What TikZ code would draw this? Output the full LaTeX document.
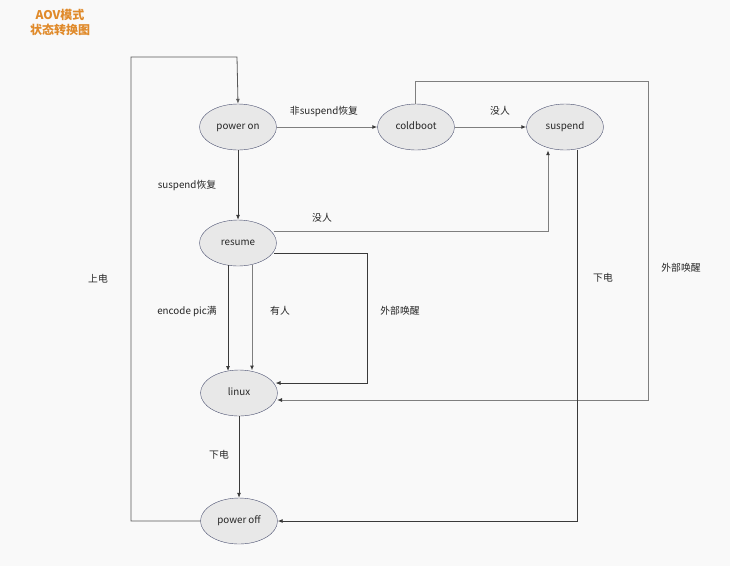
\documentclass[tikz,border=0pt]{standalone}
\usepackage{fontspec}
\setmainfont{Noto Sans CJK SC}
\usetikzlibrary{arrows.meta,shapes.geometric}
\definecolor{bgc}{HTML}{F9F9F9}
\definecolor{fillc}{HTML}{E8E8E8}
\definecolor{edgec}{HTML}{4A5070}
\definecolor{dark}{HTML}{3A3A3A}
\definecolor{grayl}{HTML}{7F7F7F}
\definecolor{titlec}{HTML}{E08A2A}
\tikzset{
  state/.style={ellipse, draw=edgec, fill=fillc, minimum width=77pt, minimum height=46pt, inner sep=0pt, font=\fontsize{9.8}{11}\selectfont, text=black!85, text height=7pt, text depth=2pt},
  conn/.style={draw=dark, line width=0.8pt, -{Latex[length=5pt,width=4pt]}},
  conng/.style={draw=grayl, line width=1pt, -{Latex[length=5pt,width=4pt,color=dark]}},
  lbl/.style={font=\fontsize{9.8}{11}\selectfont, text=black!85, inner sep=0pt},
}
\begin{document}
\begin{tikzpicture}[x=1pt,y=-1pt]
\fill[bgc] (0,0) rectangle (730,566);
\useasboundingbox (0,0) rectangle (730,566);
\node[font=\bfseries\fontsize{12}{15}\selectfont, text=titlec, align=center, inner sep=0pt] (title) at (60,22.5) {AOV模式\\状态转换图};

\node[state] (pon) at (238,127) {power on};
\node[state] (cb) at (416,127) {coldboot};
\node[state] (sus) at (565,127) {suspend};
\node[state] (res) at (238,243) {resume};
\node[state] (lin) at (239,393) {linux};
\node[state] (poff) at (239,521) {power off};

% power on -> coldboot
\draw[conng] (pon.east) -- (cb.west);
\node[lbl] (l1) at (324,111) {非suspend恢复};
% coldboot -> suspend
\draw[conng] (cb.east) -- (sus.west);
\node[lbl] (l2) at (500,111) {没人};
% power on -> resume
\draw[conn] (pon.south) -- (res.north);
\node[lbl] (l3) at (187,185) {suspend恢复};
% resume -> suspend
\coordinate (c1) at (548,231);
\draw[conng] (res.east |- c1) ++(-3,0) -- (c1) -- (c1 |- sus.south);
\node[lbl] (l4) at (322,218) {没人};
% resume -> linux (two)
\draw[conn] (228,265) -- (228,371);
\draw[conng] (252,265) -- (252,370.5);
\node[lbl] (l5) at (187,311) {encode pic满};
\node[lbl] (l6) at (280,311) {有人};
% resume -> linux external wake
\coordinate (c2) at (367,253);
\coordinate (c3) at (367,383);
\draw[conn] (274,253) -- (c2) -- (c3) -- (275.5,383);
\node[lbl] (l7) at (400,311) {外部唤醒};
% coldboot -> linux external wake
\coordinate (c4) at (415,81);
\coordinate (c5) at (648,81);
\coordinate (c6) at (648,400);
\draw[conng] (cb.north -| c4) -- (c4) -- (c5) -- (c6) -- (277,400);
\node[lbl] (l8) at (681,268) {外部唤醒};
% suspend -> power off
\coordinate (c7) at (577,149.5);
\coordinate (c8) at (577,521);
\draw[conn] (c7) -- (c8) -- (poff.east);
\node[lbl] (l9) at (603,278) {下电};
% linux -> power off
\draw[conn] (lin.south) -- (poff.north);
\node[lbl] (l10) at (219,455) {下电};
% power off -> power on
\coordinate (c9) at (131,521);
\coordinate (c10) at (131,57);
\coordinate (c11) at (237,57);
\draw[conn, draw=dark!85] (poff.west) -- (c9) -- (c10) -- (c11) -- (pon.north);
\node[lbl] (l11) at (98,279) {上电};
\end{tikzpicture}
\end{document}
